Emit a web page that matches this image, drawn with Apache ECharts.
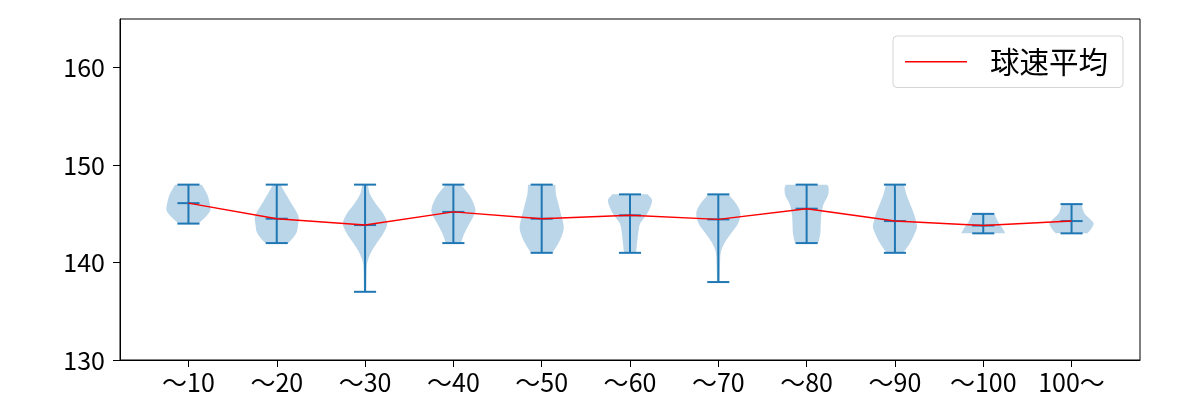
<!DOCTYPE html>
<html><head><meta charset="utf-8">
<script src="https://cdn.jsdelivr.net/npm/echarts@6/dist/echarts.min.js"></script>
<style>html,body{margin:0;padding:0;background:#fff}#c{width:1200px;height:400px}</style>
</head><body><div id="c"></div>
<script>
// ---- data ----
const categories = ['～10','～20','～30','～40','～50','～60','～70','～80','～90','～100','100～'];
const means = [146.1, 144.5, 143.85, 145.2, 144.5, 144.85, 144.43, 145.53, 144.26, 143.8, 144.26];
const mins  = [144, 142, 137, 142, 141, 141, 138, 142, 141, 143, 143];
const maxs  = [148, 148, 148, 148, 148, 147, 147, 148, 148, 145, 146];
// relative violin half-width (density) at speed levels [speed, density]
const violinShapes = [
  [[148,0.6],[147,0.85],[146,0.97],[145.5,1.0],[145,0.9],[144,0.45]],
  [[148,0.17],[147,0.42],[146,0.68],[145,0.94],[144.5,1.0],[144,0.97],[143,0.88],[142,0.53]],
  [[148,0.12],[147,0.23],[146,0.5],[145,0.83],[144,1.0],[143,0.83],[142,0.53],[141,0.26],[140,0.1],[139,0.07],[138,0.06],[137,0.05]],
  [[148,0.34],[147,0.7],[146,0.93],[145.3,1.0],[145,0.96],[144,0.73],[143,0.5],[142,0.34]],
  [[148,0.62],[147,0.65],[146,0.76],[145,0.87],[144,0.98],[143.6,1.0],[143,0.95],[142,0.76],[141,0.49]],
  [[147,0.8],[146.4,1.0],[146,0.97],[145,0.77],[144,0.46],[143,0.37],[142,0.32],[141,0.27]],
  [[147,0.45],[146,0.82],[145,1.0],[144,0.89],[143,0.58],[142,0.28],[141,0.11],[140,0.08],[139,0.07],[138,0.06]],
  [[148,0.94],[147.6,1.0],[147,0.98],[146,0.77],[145,0.67],[144,0.64],[143,0.62],[142,0.53]],
  [[148,0.41],[147,0.52],[146,0.69],[145,0.86],[144,0.98],[143.7,1.0],[143,0.9],[142,0.68],[141,0.38]],
  [[145,0.5],[144,0.72],[143.5,0.88],[143,1.0]],
  [[146,0.45],[145,0.6],[144.5,0.82],[144,1.0],[143.5,0.9],[143,0.72]]
];
const yTicks = [130, 140, 150, 160];
const seriesName = '球速平均';

// ---- helpers ----
function monotoneInterp(pts) {
  const p = pts.slice().sort((a, b) => a[0] - b[0]);
  const n = p.length, xs = p.map(d => d[0]), ys = p.map(d => d[1]);
  if (n === 1) return () => ys[0];
  const d = [], m = new Array(n);
  for (let i = 0; i < n - 1; i++) d.push((ys[i + 1] - ys[i]) / (xs[i + 1] - xs[i]));
  m[0] = d[0]; m[n - 1] = d[n - 2];
  for (let i = 1; i < n - 1; i++) m[i] = d[i - 1] * d[i] <= 0 ? 0 : (d[i - 1] + d[i]) / 2;
  for (let i = 0; i < n - 1; i++) {
    if (d[i] === 0) { m[i] = 0; m[i + 1] = 0; continue; }
    const a = m[i] / d[i], b = m[i + 1] / d[i], s = a * a + b * b;
    if (s > 9) { const t = 3 / Math.sqrt(s); m[i] = t * a * d[i]; m[i + 1] = t * b * d[i]; }
  }
  return function (x) {
    if (x <= xs[0]) return ys[0];
    if (x >= xs[n - 1]) return ys[n - 1];
    let i = 0; while (x > xs[i + 1]) i++;
    const h = xs[i + 1] - xs[i], t = (x - xs[i]) / h;
    const h00 = 2 * t * t * t - 3 * t * t + 1, h10 = t * t * t - 2 * t * t + t;
    const h01 = -2 * t * t * t + 3 * t * t, h11 = t * t * t - t * t;
    return h00 * ys[i] + h10 * h * m[i] + h01 * ys[i + 1] + h11 * h * m[i + 1];
  };
}

const FONT = '"Noto Sans CJK JP", "Noto Sans", sans-serif';
const BLUE = '#1f77b4';
const HALF = 0.25, CAP = 0.125;
const positions = categories.map((c, i) => i + 1);

function renderViolin(params, api) {
  const pos = api.value(0), idx = api.value(1);
  const lo = mins[idx], hi = maxs[idx], mean = means[idx];
  const f = monotoneInterp(violinShapes[idx]);
  const N = 80, right = [], left = [];
  for (let k = 0; k <= N; k++) {
    const v = lo + (hi - lo) * k / N;
    const w = Math.max(0, f(v)) * HALF;
    right.push(api.coord([pos + w, v]));
    left.push(api.coord([pos - w, v]));
  }
  const poly = right.concat(left.reverse());
  const ln = (x1, y1, x2, y2) => {
    const a = api.coord([x1, y1]), b = api.coord([x2, y2]);
    return { type: 'line', shape: { x1: a[0], y1: a[1], x2: b[0], y2: b[1] },
      style: { stroke: BLUE, lineWidth: 2 } };
  };
  return {
    type: 'group',
    children: [
      { type: 'polygon', shape: { points: poly }, style: { fill: 'rgba(31,119,180,0.3)', stroke: null } },
      ln(pos, lo, pos, hi),
      ln(pos - CAP, lo, pos + CAP, lo),
      ln(pos - CAP, hi, pos + CAP, hi),
      ln(pos - CAP, mean, pos + CAP, mean)
    ]
  };
}

const chart = echarts.init(document.getElementById('c'), null, { renderer: 'canvas' });
chart.setOption({
  animation: false,
  backgroundColor: '#fff',
  textStyle: { fontFamily: FONT },
  grid: { left: 120, right: 60, top: 19, bottom: 40, show: true, borderColor: '#000', borderWidth: 1, containLabel: false },
  legend: {
    data: [{ name: seriesName, icon: 'rect' }],
    left: 893, top: 36,
    padding: [11, 15, 11, 12],
    itemWidth: 62, itemHeight: 1.5,
    borderColor: '#d5d5d5', borderWidth: 1, borderRadius: 4,
    backgroundColor: 'rgba(255,255,255,0.8)',
    itemStyle: { color: '#ff0000' },
    textStyle: { fontSize: 29.5, color: '#000', fontFamily: FONT, padding: [0, 0, 0, 18] }
  },
  xAxis: {
    type: 'value', min: 0.225, max: 11.775,
    splitLine: { show: false },
    axisLine: { lineStyle: { color: '#000', width: 1 } },
    axisTick: { customValues: positions, length: 7, lineStyle: { color: '#000' } },
    axisLabel: { customValues: positions, margin: 10, fontSize: 25, color: '#000', fontFamily: FONT,
      formatter: v => categories[Math.round(v) - 1] || '' }
  },
  yAxis: {
    type: 'value', min: 130, max: 165,
    splitLine: { show: false },
    axisLine: { show: true, lineStyle: { color: '#000', width: 1 } },
    axisTick: { show: true, customValues: yTicks, length: 7, lineStyle: { color: '#000' } },
    axisLabel: { customValues: yTicks, margin: 15, fontSize: 25, color: '#000', fontFamily: FONT }
  },
  series: [
    {
      type: 'custom', name: 'violin', renderItem: renderViolin,
      data: positions.map((p, i) => [p, i]), z: 2, silent: true
    },
    {
      type: 'line', name: seriesName, data: positions.map((p, i) => [p, means[i]]),
      symbol: 'none', z: 5,
      itemStyle: { color: '#ff0000' },
      lineStyle: { color: '#ff0000', width: 1.4 }
    }
  ]
});
</script></body></html>
